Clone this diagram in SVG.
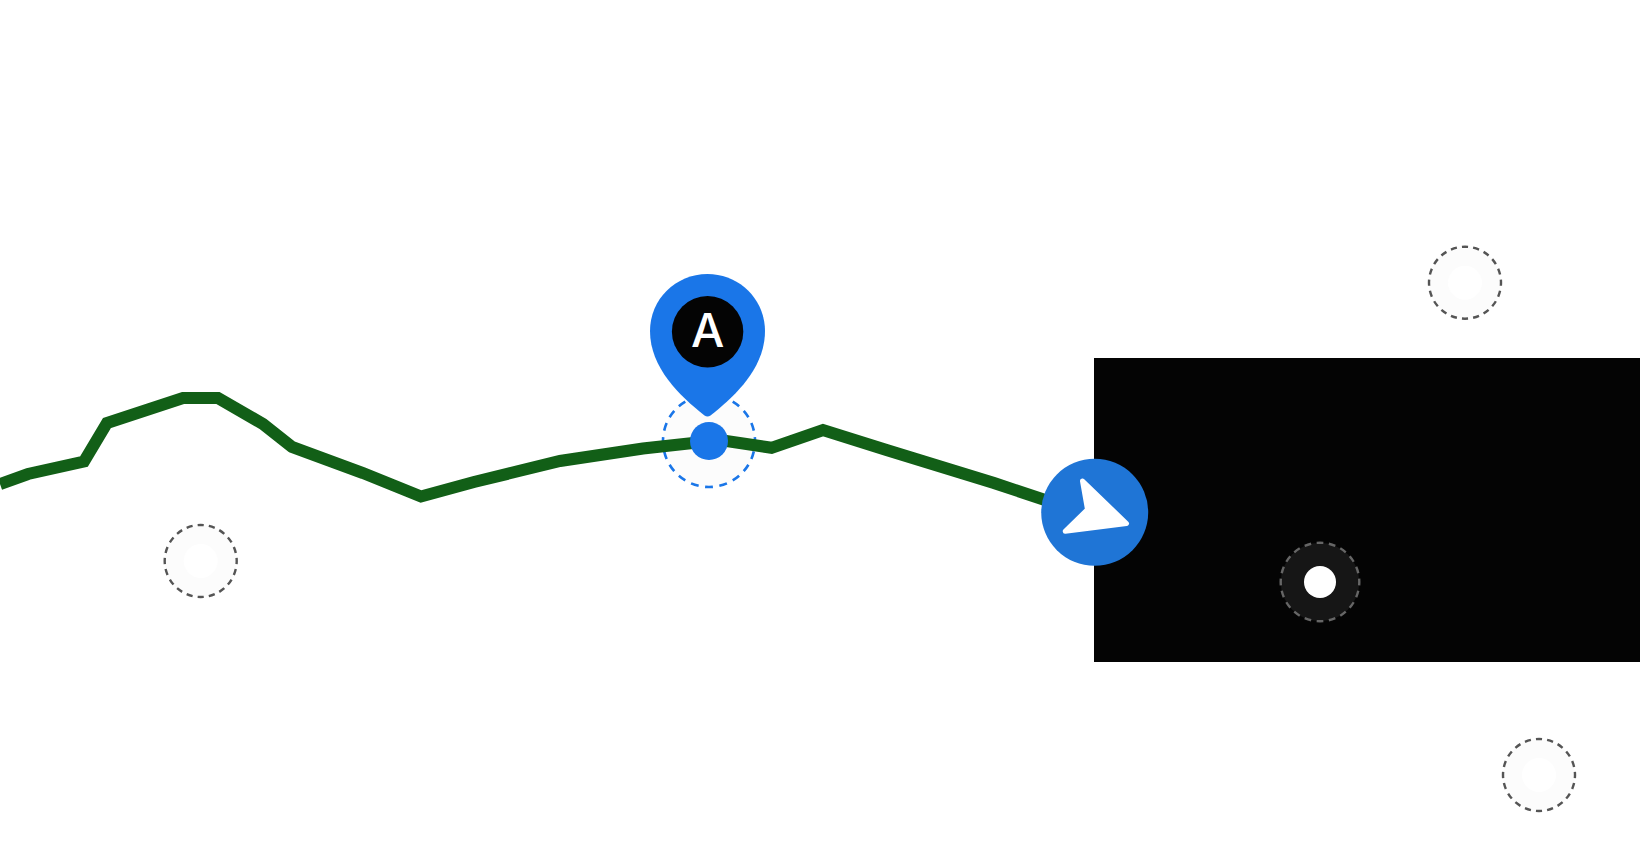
<svg xmlns="http://www.w3.org/2000/svg" width="1640" height="846" viewBox="0 0 1640 846">
<style>
.ring{fill:#fcfcfc;stroke:#555;stroke-width:2.4;stroke-dasharray:.55 .45;stroke-dashoffset:.275}
.hole{fill:#fff}
.a{font-family:Inter,"Liberation Sans",Arial,sans-serif;font-size:47px;font-weight:500;fill:#fff;text-anchor:middle}
</style>
<rect width="1640" height="846" fill="#fff"/>
<rect id="dark-panel" x="1094" y="358" width="546" height="304" fill="#040404"/>
<g id="ring-west"><circle class="ring" pathLength="20" cx="200.700" cy="561" r="36"/><circle class="hole" cx="200.700" cy="561" r="17"/></g>
<g id="ring-north-east"><circle class="ring" pathLength="20" cx="1465" cy="282.700" r="36"/><circle class="hole" cx="1465" cy="282.700" r="17"/></g>
<g id="ring-south-east"><circle class="ring" pathLength="20" cx="1539" cy="775" r="36"/><circle class="hole" cx="1539" cy="775" r="17"/></g>
<g id="ring-dark"><circle pathLength="20" cx="1320" cy="582" r="39.300" fill="#161616" stroke="#666" stroke-width="2.4" stroke-dasharray=".55 .45" stroke-dashoffset=".275"/><circle cx="1320" cy="582" r="16" fill="#fff"/></g>
<g id="ring-a"><circle pathLength="20" cx="709" cy="441" r="46" fill="#fcfcfc" stroke="#1a76e8" stroke-width="2.6" stroke-dasharray=".55 .45" stroke-dashoffset=".275"/></g>
<g id="connectors">
<polyline fill="none" stroke="#125f17" stroke-width="12" stroke-linejoin="miter" points="0,484 28,474 84,461.500 107,423 183,398 218,398 263,424 292,447 363,473 421,496.500 474,482 560,461 643,448.500 720,440 771.500,447.800 823,430 886.500,450 994,483 1060,505"/>
</g>
<g id="marker-a">
<circle cx="709" cy="441" r="19" fill="#1a76e8"/>
<path d="M707.500 274C675.500 274 650 299.500 650 331C650 368 680 396 704.500 415.500Q707.500 417.500 710.500 415.500C735 396 765 368 765 331C765 299.500 739.500 274 707.500 274Z" fill="#1a76e8"/>
<circle cx="707.600" cy="331.700" r="35.700" fill="#040404"/>
<text class="a" x="707.600" y="347.400">A</text>
</g>
<g id="nav-marker">
<circle cx="1094.700" cy="512.300" r="53.500" fill="#1f75d6"/>
<polygon points="1082.500,481 1126.500,523.500 1065.200,531.300 1087.500,509.500" fill="#fff" stroke="#fff" stroke-width="5" stroke-linejoin="round"/>
</g>
</svg>
